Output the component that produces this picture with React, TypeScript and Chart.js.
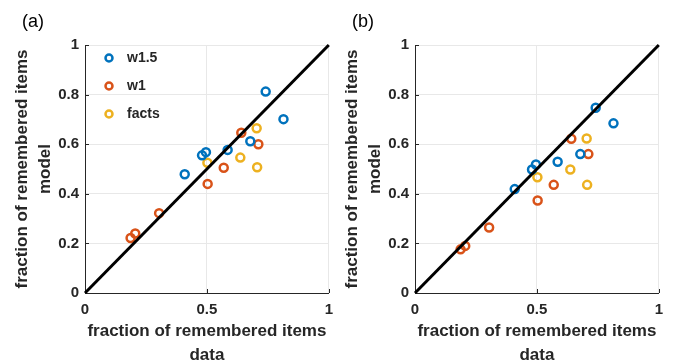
import React, { useEffect, useRef } from 'react';
import { Chart, registerables } from 'chart.js';

Chart.register(...registerables);

const FONT = '"Liberation Sans", Arial, Helvetica, sans-serif';
const AXIS_COLOR = '#262626';
const GRID_COLOR = '#e8e8e8';

const seriesNames = ['w1.5', 'w1', 'facts'];
const seriesColors = ['#0072BD', '#D95319', '#EDB120'];

// x: fraction of remembered items in data
const dataW15 = [0.409, 0.48, 0.496, 0.585, 0.678, 0.741, 0.814];
const dataW1 = [0.187, 0.206, 0.304, 0.503, 0.569, 0.641, 0.711];
const dataFacts = [0.502, 0.637, 0.704, 0.706];

// y: model, panel (a)
const modelAW15 = [0.479, 0.555, 0.568, 0.577, 0.612, 0.812, 0.701];
const modelAW1 = [0.222, 0.24, 0.322, 0.44, 0.505, 0.646, 0.6];
const modelAFacts = [0.525, 0.546, 0.664, 0.507];

// y: model, panel (b)
const modelBW15 = [0.419, 0.498, 0.518, 0.529, 0.56, 0.747, 0.684];
const modelBW1 = [0.176, 0.19, 0.264, 0.373, 0.436, 0.622, 0.56];
const modelBFacts = [0.467, 0.498, 0.623, 0.436];

const diagonal = [0, 1];
const xTitle = ['fraction of remembered items', 'data'];
const yTitle = ['fraction of remembered items', 'model'];

const zip = (xs: number[], ys: number[]) => xs.map((x, i) => ({ x, y: ys[i] }));
const fmt = (v: any) => String(Math.round(Number(v) * 10) / 10);

const decorPlugin = {
  id: 'decor',
  beforeDatasetsDraw(chart: any) {
    const { ctx, chartArea, scales } = chart;
    ctx.save();
    ctx.strokeStyle = AXIS_COLOR;
    ctx.lineWidth = 1;
    scales.y.ticks.forEach((t: any) => {
      const y = Math.round(scales.y.getPixelForValue(t.value)) + 0.5;
      ctx.beginPath();
      ctx.moveTo(chartArea.left, y);
      ctx.lineTo(chartArea.left + 4, y);
      ctx.stroke();
    });
    scales.x.ticks.forEach((t: any) => {
      const x = Math.round(scales.x.getPixelForValue(t.value)) + 0.5;
      ctx.beginPath();
      ctx.moveTo(x, chartArea.bottom);
      ctx.lineTo(x, chartArea.bottom - 4);
      ctx.stroke();
    });
    ctx.restore();
  },
  afterDraw(chart: any, _args: any, opts: any) {
    const { ctx, chartArea } = chart;
    ctx.save();
    ctx.fillStyle = '#000';
    ctx.textAlign = 'left';
    ctx.textBaseline = 'middle';
    ctx.font = `normal 18px ${FONT}`;
    ctx.fillText(opts.label, opts.labelX, opts.labelY);
    if (opts.legend) {
      seriesNames.forEach((name, i) => {
        const cy = chartArea.top + 13 + i * 28;
        const cx = chartArea.left + 24;
        ctx.beginPath();
        ctx.arc(cx, cy, 3.5, 0, Math.PI * 2);
        ctx.strokeStyle = seriesColors[i];
        ctx.lineWidth = 2.5;
        ctx.stroke();
        ctx.fillStyle = AXIS_COLOR;
        ctx.font = `bold 14px ${FONT}`;
        ctx.fillText(name, chartArea.left + 42, cy);
      });
    }
    ctx.restore();
  },
};

function Panel({ left, label, ys, legend }: { left: number; label: string; ys: number[][]; legend: boolean }) {
  const ref = useRef<HTMLCanvasElement>(null);
  useEffect(() => {
    if (!ref.current) return;
    const xs = [dataW15, dataW1, dataFacts];
    const chart = new Chart(ref.current, {
      type: 'scatter',
      data: {
        datasets: [
          {
            type: 'line',
            label: 'diagonal',
            data: zip(diagonal, diagonal),
            borderColor: '#000',
            borderWidth: 3,
            pointRadius: 0,
            fill: false,
            clip: false,
          } as any,
          ...seriesNames.map((name, i) => ({
            label: name,
            data: zip(xs[i], ys[i]),
            pointRadius: 4,
            borderWidth: 2.5,
            pointBorderWidth: 2.5,
            borderColor: seriesColors[i],
            pointBorderColor: seriesColors[i],
            backgroundColor: 'rgba(0,0,0,0)',
            pointBackgroundColor: 'rgba(0,0,0,0)',
            pointStyle: 'circle',
          })),
        ],
      },
      options: {
        responsive: false,
        animation: false,
        events: [],
        layout: { padding: { top: 45, right: 10, left: 0, bottom: 0 } },
        plugins: {
          legend: { display: false },
          tooltip: { enabled: false },
          decor: { label, labelX: 22, labelY: 22, legend },
        } as any,
        scales: {
          x: {
            type: 'linear',
            min: 0,
            max: 1,
            afterFit: (s: any) => { s.height = 69; },
            ticks: {
              stepSize: 0.5,
              color: AXIS_COLOR,
              padding: 8,
              font: { family: FONT, size: 15, weight: 'bold' },
              maxRotation: 0,
              callback: fmt,
            },
            grid: { color: GRID_COLOR, drawTicks: false },
            border: { color: AXIS_COLOR, width: 1 },
            title: {
              display: true,
              text: xTitle,
              color: AXIS_COLOR,
              font: { family: FONT, size: 17, weight: 'bold', lineHeight: 24 / 17 },
              padding: { top: 0, bottom: -5 },
            },
          },
          y: {
            type: 'linear',
            min: 0,
            max: 1,
            afterFit: (s: any) => { s.width = 85; },
            ticks: {
              stepSize: 0.2,
              color: AXIS_COLOR,
              padding: 6,
              font: { family: FONT, size: 15, weight: 'bold' },
              callback: fmt,
            },
            grid: { color: GRID_COLOR, drawTicks: false },
            border: { color: AXIS_COLOR, width: 1 },
            title: {
              display: true,
              text: yTitle,
              color: AXIS_COLOR,
              font: { family: FONT, size: 17, weight: 'bold', lineHeight: 23 / 17 },
              padding: { top: 10.5, bottom: 0 },
            },
          },
        },
      } as any,
      plugins: [decorPlugin],
    });
    return () => chart.destroy();
  }, []);
  return (
    <canvas
      ref={ref}
      width={341}
      height={362}
      style={{ position: 'absolute', left, top: 0, width: 341, height: 362 }}
    />
  );
}

export default function App() {
  return (
    <div style={{ position: 'fixed', left: 0, top: 0, width: 683, height: 362, background: '#fff', overflow: 'hidden' }}>
      <Panel left={0} label="(a)" ys={[modelAW15, modelAW1, modelAFacts]} legend={true} />
      <Panel left={330} label="(b)" ys={[modelBW15, modelBW1, modelBFacts]} legend={false} />
    </div>
  );
}
